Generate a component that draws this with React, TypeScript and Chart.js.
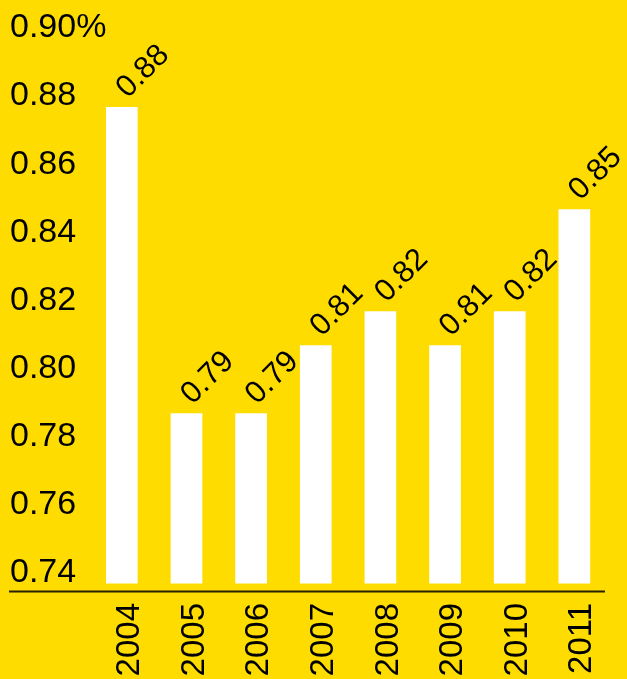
import React, { useEffect, useRef } from "react";
import { Chart, registerables } from "chart.js";

Chart.register(...registerables);

const YEARS = ["2004", "2005", "2006", "2007", "2008", "2009", "2010", "2011"];
const VALUES = [0.88, 0.79, 0.79, 0.81, 0.82, 0.81, 0.82, 0.85];
const Y_TICKS = [0.74, 0.76, 0.78, 0.8, 0.82, 0.84, 0.86, 0.88, 0.9];
const Y_TICK_LABELS = ["0.74", "0.76", "0.78", "0.80", "0.82", "0.84", "0.86", "0.88", "0.90%"];
const BAR_BASE = 0.74;
const Y_MIN = 0.7378;
const Y_MAX = 0.9;

const BG = "#FEDC00";
const FONT = "'Liberation Sans', Arial, Helvetica, sans-serif";

const dataLabelPlugin = {
  id: "dataLabels",
  afterDatasetsDraw(chart: any) {
    const ctx = chart.ctx;
    const meta = chart.getDatasetMeta(0);
    ctx.save();
    ctx.fillStyle = "#000";
    ctx.font = `31px ${FONT}`;
    ctx.textAlign = "left";
    ctx.textBaseline = "alphabetic";
    meta.data.forEach((el: any, i: number) => {
      ctx.save();
      ctx.translate(el.x + 6, el.y - 8);
      ctx.rotate(-Math.PI / 4);
      ctx.fillText(VALUES[i].toFixed(2), 0, 0);
      ctx.restore();
    });
    ctx.restore();
  },
};

const yLabelPlugin = {
  id: "yLabels",
  afterDraw(chart: any) {
    const ctx = chart.ctx;
    const scale = chart.scales.y;
    ctx.save();
    ctx.fillStyle = "#000";
    ctx.font = `34px ${FONT}`;
    ctx.textAlign = "left";
    ctx.textBaseline = "middle";
    Y_TICKS.forEach((v, i) => {
      ctx.fillText(Y_TICK_LABELS[i], 10, scale.getPixelForValue(v) - 11);
    });
    ctx.restore();
  },
};

const axisLinePlugin = {
  id: "axisLine",
  afterDraw(chart: any) {
    const ctx = chart.ctx;
    const y = chart.chartArea.bottom + 0.5;
    ctx.save();
    ctx.strokeStyle = "rgba(0,0,0,0.85)";
    ctx.lineWidth = 2;
    ctx.beginPath();
    ctx.moveTo(9, y);
    ctx.lineTo(605, y);
    ctx.stroke();
    ctx.restore();
  },
};

export default function App() {
  const ref = useRef<HTMLCanvasElement | null>(null);

  useEffect(() => {
    if (!ref.current) return;
    const chart = new Chart(ref.current, {
      type: "bar",
      data: {
        labels: YEARS,
        datasets: [
          {
            data: VALUES,
            base: BAR_BASE,
            backgroundColor: "#FFFFFF",
            borderWidth: 0,
            categoryPercentage: 1,
            barPercentage: 0.49,
          } as any,
        ],
      },
      options: {
        responsive: false,
        animation: false,
        layout: { padding: { top: 39, left: 89.5, right: 16.5, bottom: 0 } },
        plugins: {
          legend: { display: false },
          tooltip: { enabled: false },
          title: { display: false },
        },
        scales: {
          x: {
            offset: true,
            grid: { display: false, drawTicks: false },
            border: { display: false },
            ticks: {
              minRotation: 90,
              maxRotation: 90,
              padding: 12,
              labelOffset: 8,
              color: "#000",
              font: { size: 33, family: FONT },
            },
            afterFit(scale: any) {
              scale.height = 88;
            },
          },
          y: {
            display: false,
            min: Y_MIN,
            max: Y_MAX,
            afterBuildTicks(scale: any) {
              scale.ticks = Y_TICKS.map((v) => ({ value: v }));
            },
          },
        },
      },
      plugins: [dataLabelPlugin, yLabelPlugin, axisLinePlugin],
    });
    return () => chart.destroy();
  }, []);

  return (
    <div
      style={{
        position: "absolute",
        left: 0,
        top: 0,
        width: 627,
        height: 679,
        background: BG,
        overflow: "hidden",
      }}
    >
      <canvas ref={ref} width={627} height={679} style={{ display: "block" }} />
    </div>
  );
}
